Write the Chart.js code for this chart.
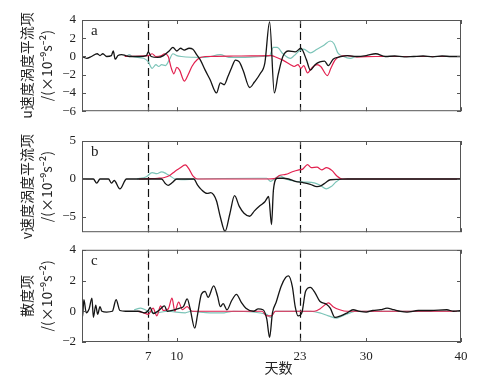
<!DOCTYPE html>
<html>
<head>
<meta charset="utf-8">
<script src="https://cdn.jsdelivr.net/npm/chart.js@4.4.0/dist/chart.umd.min.js"></script>
<style>
  body { margin: 0; background: #fff; }
  #wrap { position: relative; width: 481px; height: 386px; }
  canvas { position: absolute; left: 0; }
</style>
</head>
<body>
<div id="wrap">
  <canvas id="panelA" width="481" height="125" style="top:0px"></canvas>
  <canvas id="panelB" width="481" height="130" style="top:116px"></canvas>
  <canvas id="panelC" width="481" height="150" style="top:236px"></canvas>
</div>
<script>
// days on x axis
const dayTicks = [7, 10, 23, 30, 40]
const markDays = [7, 23]

// panel a: u advection term  [day, value]
const uBlack = [[0,0],[0.5,-0.2],[1,0],[1.6,0.3],[1.9,0.1],[2.2,0.3],[2.6,0],[3.1,0.1],[3.3,0.6],[3.5,-0.3],[3.8,0.1],[4.2,0.2],[4.6,0.1],[5,0],[6,0],[6.8,0.1],[7,0.5],[7.3,0],[8,-0.1],[8.6,0.1],[9.2,0.6],[9.6,1.0],[10,0.6],[10.4,0.9],[10.8,0.7],[11.3,0.9],[11.7,0.8],[12.1,0.2],[12.5,-0.4],[13,-1.5],[13.5,-2.5],[14.2,-4.0],[14.6,-2.9],[15,-3.1],[15.4,-2.2],[15.8,-1.2],[16.2,-0.4],[16.6,-0.6],[17,-1.5],[17.7,-3.4],[18.2,-2.8],[18.8,-1.9],[19.3,-0.7],[19.8,3.8],[20.3,-4.0],[20.7,-2.0],[21.2,0],[21.8,0.6],[22.5,0.5],[23.1,0.9],[23.7,-0.4],[24.1,-1.5],[24.6,-0.9],[25.1,-0.6],[25.6,-0.5],[26,-1.0],[26.5,-0.3],[27,-0.1],[28,0.1],[29,0],[30,0.1],[31,0.3],[32,0],[33,0.05],[34,-0.05],[35,0],[36,0.05],[37,-0.05],[38,0.05],[39,0],[40,0]]
const uRed = [[4.5,0],[7,0.1],[7.4,0.3],[7.8,0],[8.4,0.1],[8.7,0.3],[9.1,0],[9.4,-1.2],[9.7,-1.9],[10,-1.2],[10.3,-1.5],[10.8,-2.7],[11.2,-2.0],[11.6,-1.1],[12.2,-0.3],[13,0],[16,0.05],[20,0.1],[20.3,0],[21.2,-0.4],[22,-0.9],[22.4,-1.1],[22.8,-0.9],[23.1,-1.3],[23.4,-1.0],[23.8,-1.8],[24.3,-1.2],[24.8,-0.9],[25.2,-1.1],[25.9,-2.1],[26.3,-1.2],[26.7,-0.4],[27.2,0],[28,0.1],[29,-0.05],[31,0],[40,0]]
const uTeal = [[4.7,0],[5,0.2],[5.3,0],[6.5,-0.2],[7,-0.6],[7.4,-1.3],[7.8,-0.9],[8.1,-1.1],[8.4,-0.9],[8.8,-1.0],[9.2,-0.4],[9.6,0.3],[10,0.1],[10.5,0],[13,-0.1],[14.6,0.2],[15.5,-0.1],[17,-0.1],[19,0],[19.8,0.1],[20.2,1.0],[20.6,1.0],[21.2,0.3],[22,-0.2],[22.4,0.1],[22.9,0.6],[23.4,0.8],[24.1,0.4],[24.8,0.8],[25.5,1.2],[26.2,1.7],[26.6,1.4],[27,0.4],[27.6,0],[28.3,-0.2],[29,0],[40,0]]

// panel b: v advection term
const vBlack = [[0,0],[1.2,0],[1.55,-0.55],[1.9,0],[2.8,0],[3.1,-0.55],[3.4,-0.2],[4.0,-1.3],[4.7,0],[7,0],[8.4,0],[8.8,-0.6],[9.1,-0.85],[9.5,-0.5],[10,0],[11.8,0],[12.2,-0.8],[12.6,-1.4],[13.2,-1.9],[13.6,-1.8],[13.9,-2.1],[14.2,-2.9],[14.6,-5.0],[15.1,-6.9],[15.6,-4.6],[16.1,-2.2],[16.6,-3.6],[17.1,-4.5],[17.7,-4.9],[18.2,-4.2],[18.8,-3.5],[19.3,-3.0],[19.7,-2.3],[20.0,-6.0],[20.2,-1.5],[20.6,0.1],[21.2,0.1],[21.8,0],[22.5,-0.3],[23.4,-0.5],[24.1,-0.7],[24.8,-1.0],[25.2,-0.9],[25.7,-0.5],[26.2,-0.1],[27,-0.05],[28,0],[40,0]]
const vRed = [[6,0],[7,0.05],[8,0.1],[8.7,0.2],[9.3,0.5],[9.8,1.0],[10.3,1.4],[10.9,1.85],[11.3,1.3],[11.7,0.4],[12.2,0],[19.5,0],[20.3,0.05],[20.9,0.5],[21.5,0.6],[22.2,0.95],[22.9,1.2],[23.3,1.3],[23.8,1.9],[24.2,1.5],[24.8,1.55],[25.3,1.2],[25.8,1.5],[26.4,1.1],[26.9,0.4],[27.5,0],[40,0]]
const vTeal = [[5.8,0],[6.8,0.3],[7.4,0.85],[7.9,0.7],[8.4,0.95],[8.9,0.7],[9.3,0.4],[9.8,0],[10.5,-0.1],[12,0],[18.5,0.1],[19.5,0.1],[19.9,-0.3],[20.4,0.1],[20.9,0.4],[21.5,0.0],[22.5,-0.3],[23.5,-0.4],[24.5,-0.5],[25.1,-0.8],[25.8,-1.3],[26.3,-1.0],[26.8,-0.4],[27.4,0],[40,0]]

// panel c: divergence term
const cBlack = [[0,0.1],[0.05,-0.4],[0.2,0.75],[0.45,-0.1],[0.75,0.15],[1.05,0.85],[1.2,-0.4],[1.45,0.4],[1.65,-0.2],[1.9,0.3],[2.1,0],[2.6,-0.05],[3.2,0],[3.6,0.75],[4,0.05],[4.6,0],[6,0],[6.6,-0.1],[7.0,0.05],[7.2,0.25],[7.5,-0.15],[8.2,0.1],[8.7,0.35],[9,0],[9.8,0.1],[10.3,0.2],[10.7,0.3],[11.1,0.8],[11.4,0.2],[11.9,-1.1],[12.2,-0.2],[12.6,1.1],[13,1.3],[13.3,0.9],[13.9,1.65],[14.3,1.0],[14.6,0.3],[14.9,0.5],[15.3,0.1],[15.8,0.7],[16.3,1.1],[16.8,0.6],[17.3,0.2],[18.1,0],[18.6,0.15],[19.1,0.1],[19.5,-0.5],[19.8,-1.7],[20.1,-0.1],[20.5,0.6],[21,1.6],[21.5,2.2],[21.8,2.3],[22.2,1.6],[22.5,0.3],[22.8,-0.3],[23.2,-0.1],[23.6,1.3],[24.1,1.55],[24.6,1.2],[25.1,0.65],[25.8,0.45],[26.2,0.2],[26.7,-0.4],[27.3,-0.3],[28,-0.1],[28.6,0.1],[29.3,0],[30,-0.05],[30.7,0.05],[31.5,0.1],[32.2,0.2],[32.9,0.1],[33.6,0],[34.3,-0.05],[35.5,0.05],[36.8,0.05],[38.5,0.1],[39.2,0],[40,0.05]]
const cRed = [[5.8,0],[6.5,-0.1],[7,-0.2],[7.5,0.2],[7.9,-0.3],[8.3,0.35],[8.6,0.05],[9.1,0.15],[9.5,0.85],[9.8,0.0],[10.2,0.6],[10.6,0.1],[11.1,0.3],[11.6,0],[19,0],[19.5,-0.3],[20,-0.3],[20.4,0],[24.5,0],[25.1,0.15],[25.6,0.4],[26,0.55],[26.5,0.3],[27.2,0.1],[28,0],[40,0]]
const cTeal = [[5.5,0.1],[6.2,0.2],[7,0],[7.9,-0.1],[9,0],[10.9,-0.1],[11.5,0],[13.5,-0.1],[15,-0.1],[16,0],[19.5,-0.2],[19.9,-0.4],[20.4,0],[24.1,0],[25.1,-0.1],[26,-0.3],[26.9,-0.45],[27.5,-0.3],[28.3,-0.1],[29,0],[40,0]]

const serif = '"Liberation Serif", "DejaVu Serif", serif'
const cjk = '"Noto Sans CJK SC", "Noto Sans", sans-serif'
const unitLine = '/(×10⁻⁹s⁻²)'

// frame, inward ticks, dashed day markers, panel letter
const framePlugin = {
  id: 'frame',
  beforeDatasetsDraw(chart) {
    const {ctx, chartArea: a, scales: {x}} = chart
    ctx.save()
    ctx.strokeStyle = '#111'
    ctx.lineWidth = 1.2
    ctx.setLineDash([8, 4])
    markDays.forEach(d => {
      const px = Math.round(x.getPixelForValue(d)) + 0.5
      ctx.beginPath(); ctx.moveTo(px, a.top); ctx.lineTo(px, a.bottom); ctx.stroke()
    })
    ctx.restore()
  },
  afterDatasetsDraw(chart, args, opts) {
    const {ctx, chartArea: a, scales: {x, y}} = chart
    ctx.save()
    ctx.strokeStyle = '#555'
    ctx.lineWidth = 1
    ctx.strokeRect(a.left + 0.5, a.top + 0.5, a.width - 1, a.height - 1)
    ctx.beginPath()
    dayTicks.forEach(d => {
      const px = Math.round(x.getPixelForValue(d)) + 0.5
      ctx.moveTo(px, a.top); ctx.lineTo(px, a.top + 4)
      ctx.moveTo(px, a.bottom); ctx.lineTo(px, a.bottom - 4)
    })
    opts.yTicks.forEach(v => {
      const py = Math.round(y.getPixelForValue(v)) + 0.5
      ctx.moveTo(a.left, py); ctx.lineTo(a.left + 4, py)
      ctx.moveTo(a.right, py); ctx.lineTo(a.right - 4, py)
    })
    ctx.stroke()
    ctx.fillStyle = '#222'
    ctx.font = '15px ' + serif
    ctx.fillText(opts.letter, a.left + 9, a.top + 15)
    ctx.restore()
  }
}

function line(data, color, w) {
  return {
    data: data.map(p => ({x: p[0], y: p[1]})),
    borderColor: color,
    borderWidth: w,
    pointRadius: 0,
    cubicInterpolationMode: 'monotone',
    fill: false
  }
}

function makePanel(id, series, yMin, yMax, yTicks, title, letter, padTop, padBottom, showX) {
  new Chart(document.getElementById(id), {
    type: 'line',
    data: {
      datasets: [
        line(series[0], '#151515', 1.3),
        line(series[1], '#e2214f', 1.2),
        line(series[2], '#7cc4b8', 1.2)
      ]
    },
    options: {
      responsive: false,
      animation: false,
      layout: {padding: {top: padTop, bottom: padBottom, left: 0, right: 20}},
      plugins: {
        legend: {display: false},
        tooltip: {enabled: false},
        frame: {yTicks: yTicks, letter: letter}
      },
      scales: {
        x: {
          type: 'linear', min: 0, max: 40,
          display: showX,
          afterBuildTicks: s => { s.ticks = dayTicks.map(v => ({value: v})) },
          afterFit: s => { s.height = showX ? 44 : 0 },
          grid: {display: false, drawTicks: false},
          border: {display: false},
          ticks: {padding: 7, autoSkip: false, maxRotation: 0, color: '#222', font: {family: serif, size: 13}},
          title: {display: true, text: '　天数', color: '#222', font: {family: cjk, size: 14}, padding: {top: 0, bottom: 10}}
        },
        y: {
          min: yMin, max: yMax,
          afterBuildTicks: s => { s.ticks = yTicks.map(v => ({value: v})) },
          afterFit: s => { s.width = 82 },
          grid: {display: false, drawTicks: false},
          border: {display: false},
          ticks: {padding: 6, color: '#222', font: {family: serif, size: 13},
            callback: v => String(v).replace('-', '−')},
          title: {display: true, text: title, color: '#222', font: {family: cjk, size: 14, lineHeight: 1.4}, padding: {top: 17, bottom: 0}}
        }
      }
    },
    plugins: [framePlugin]
  })
}

makePanel('panelA', [uBlack, uRed, uTeal], -6, 4, [-6, -4, -2, 0, 2, 4], ['u速度涡度平流项', unitLine], 'a', 20, 11, false)
makePanel('panelB', [vBlack, vRed, vTeal], -7, 5, [-5, 0, 5], ['v速度涡度平流项', unitLine], 'b', 25, 11, false)
makePanel('panelC', [cBlack, cRed, cTeal], -2, 4, [-2, 0, 2, 4], ['散度项', unitLine], 'c', 11, 0, true)
</script>
</body>
</html>
